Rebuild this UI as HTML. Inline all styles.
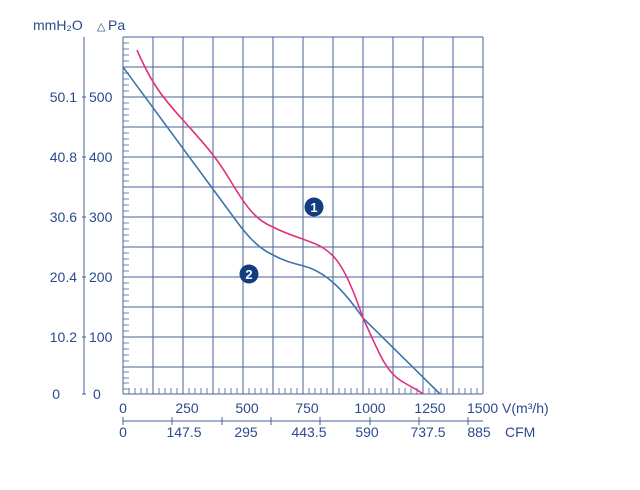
<!DOCTYPE html>
<html><head><meta charset="utf-8"><style>
html,body{margin:0;padding:0;background:#fff;width:640px;height:490px;overflow:hidden}
text{font-family:"Liberation Sans",Arial,sans-serif;fill:#2a4b8d}
</style></head><body>
<svg width="640" height="490" viewBox="0 0 640 490" xmlns="http://www.w3.org/2000/svg">
<g stroke="#4a5f9a" stroke-width="1" fill="none">
<path d="M123 37V394M153 37V394M183 37V394M213 37V394M243 37V394M273 37V394M303 37V394M333 37V394M363 37V394M393 37V394M423 37V394M453 37V394M483 37V394"/>
<path d="M123 37H483M123 67H483M123 97H483M123 127H483M123 157H483M123 187H483M123 217H483M123 247H483M123 277H483M123 307H483M123 337H483M123 367H483M123 394H483"/>
<path d="M84 37V394M82 97H86M82 157H86M82 217H86M82 277H86M82 337H86M82 394H86"/>
<path d="M123 421H483M123 417V425M172 417V425M222 417V425M271 417V425M320 417V425M370 417V425M419 417V425M468 417V425"/>
</g>
<g stroke="#4a5f9a" stroke-width="0.8">
<path d="M123 43H129M123 49H129M123 55H129M123 61H129M123 73H129M123 79H129M123 85H129M123 91H129M123 103H129M123 109H129M123 115H129M123 121H129M123 133H129M123 139H129M123 145H129M123 151H129M123 163H129M123 169H129M123 175H129M123 181H129M123 193H129M123 199H129M123 205H129M123 211H129M123 223H129M123 229H129M123 235H129M123 241H129M123 253H129M123 259H129M123 265H129M123 271H129M123 283H129M123 289H129M123 295H129M123 301H129M123 313H129M123 319H129M123 325H129M123 331H129M123 343H129M123 349H129M123 355H129M123 361H129M123 372H129M123 378H129M123 383H129M123 389H129"/>
<path d="M129 394V388M135 394V388M141 394V388M147 394V388M159 394V388M165 394V388M171 394V388M177 394V388M189 394V388M195 394V388M201 394V388M207 394V388M219 394V388M225 394V388M231 394V388M237 394V388M249 394V388M255 394V388M261 394V388M267 394V388M279 394V388M285 394V388M291 394V388M297 394V388M309 394V388M315 394V388M321 394V388M327 394V388M339 394V388M345 394V388M351 394V388M357 394V388M369 394V388M375 394V388M381 394V388M387 394V388M399 394V388M405 394V388M411 394V388M417 394V388M429 394V388M435 394V388M441 394V388M447 394V388M459 394V388M465 394V388M471 394V388M477 394V388"/>
</g>
<path d="M123 67 L232 215 C245 233 256 247 273 255 C288 263 298 264 310 268 C325 274 340 285 363 318 L440 394" stroke="#3a76ac" stroke-width="1.6" fill="none"/>
<path d="M137 50 C150 80 160 95 183 120 C205 145 215 155 230 180 C245 205 255 220 273 227 C290 236 303 238 320 246 C335 255 345 265 363 318 C378 350 385 372 403 382 C413 388 418 390 423 394" stroke="#e0307a" stroke-width="1.6" fill="none"/>
<circle cx="314" cy="207" r="9.5" fill="#123e80"/>
<circle cx="249" cy="274" r="9.5" fill="#123e80"/>
<text x="314" y="212" text-anchor="middle" font-size="13" font-weight="bold" style="fill:#fff">1</text>
<text x="249" y="279" text-anchor="middle" font-size="13" font-weight="bold" style="fill:#fff">2</text>
<g font-size="14">
<text x="33" y="30">mmH₂O</text><text x="97" y="30" font-size="11">△</text><text x="108" y="30">Pa</text>
<text x="77" y="102" text-anchor="end">50.1</text><text x="89" y="102">500</text>
<text x="77" y="162" text-anchor="end">40.8</text><text x="89" y="162">400</text>
<text x="77" y="222" text-anchor="end">30.6</text><text x="89" y="222">300</text>
<text x="77" y="282" text-anchor="end">20.4</text><text x="89" y="282">200</text>
<text x="77" y="342" text-anchor="end">10.2</text><text x="89" y="342">100</text>
<text x="60" y="399" text-anchor="end">0</text><text x="93" y="399">0</text>
<g text-anchor="middle">
<text x="123" y="413">0</text><text x="187" y="413">250</text><text x="247" y="413">500</text><text x="307" y="413">750</text><text x="370" y="413">1000</text><text x="430" y="413">1250</text>
<text x="123" y="437">0</text><text x="184" y="437">147.5</text><text x="246" y="437">295</text><text x="309" y="437">443.5</text><text x="367" y="437">590</text><text x="428" y="437">737.5</text><text x="479" y="437">885</text>
</g>
<text x="467" y="413">1500 V(m³/h)</text>
<text x="505" y="437">CFM</text>
</g>
</svg>
</body></html>
